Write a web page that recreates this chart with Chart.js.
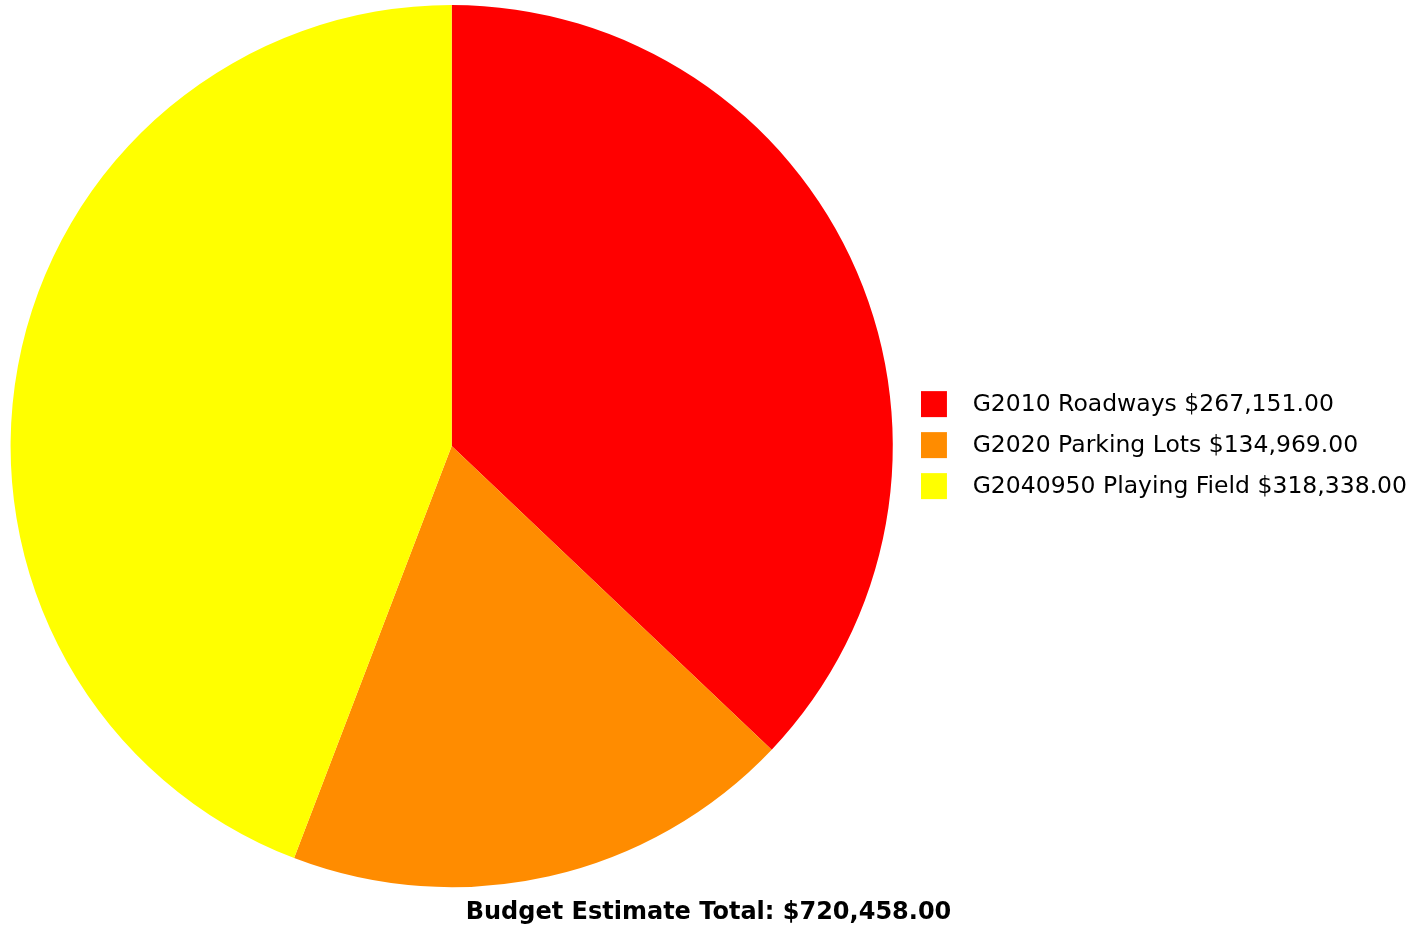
<!DOCTYPE html>
<html>
<head>
<meta charset="utf-8">
<script src="https://cdn.jsdelivr.net/npm/chart.js@4/dist/chart.umd.min.js"></script>
<style>
  html, body { margin: 0; padding: 0; background: #ffffff; }
  #wrap { width: 1424px; height: 928px; }
</style>
</head>
<body>
<div id="wrap"><canvas id="budgetChart"></canvas></div>
<script>
const categories = ['G2010 Roadways', 'G2020 Parking Lots', 'G2040950 Playing Field'];
const amounts = [267151, 134969, 318338];
const sliceColors = ['#FF0000', '#FF8C00', '#FFFF00'];

const money = v => '$' + v.toLocaleString('en-US', { minimumFractionDigits: 2, maximumFractionDigits: 2 });
const total = amounts.reduce((a, b) => a + b, 0);

// square swatch on a wider transparent canvas so the text sits further from the box
function swatch(color) {
    const c = document.createElement('canvas');
    c.width = 40;
    c.height = 30;
    const g = c.getContext('2d');
    g.fillStyle = color;
    g.fillRect(0, 1, 26, 26);
    return c;
}

document.addEventListener('DOMContentLoaded', () => {
    const ctx = document.getElementById('budgetChart').getContext('2d');

    new Chart(ctx, {
        type: 'pie',
        data: {
            labels: categories.map((c, i) => c + ' ' + money(amounts[i])),
            datasets: [{
                data: amounts,
                backgroundColor: sliceColors,
                borderWidth: 0,
                hoverOffset: 0
            }]
        },
        options: {
            responsive: true,
            maintainAspectRatio: false,
            animation: false,
            layout: { padding: { top: 5, right: 7, left: 0, bottom: 0 } },
            plugins: {
                legend: {
                    position: 'right',
                    fullSize: false,
                    labels: {
                        font: { family: 'DejaVu Sans', size: 23.5 },
                        color: '#000000',
                        padding: 17.5,
                        usePointStyle: true,
                        pointStyleWidth: 40,
                        generateLabels: chart => chart.data.labels.map((text, i) => ({
                            text: text,
                            fillStyle: sliceColors[i],
                            strokeStyle: sliceColors[i],
                            lineWidth: 0,
                            pointStyle: swatch(sliceColors[i]),
                            fontColor: '#000000',
                            hidden: false,
                            index: i
                        }))
                    }
                },
                title: {
                    display: true,
                    position: 'bottom',
                    text: 'Budget Estimate Total: ' + money(total),
                    color: '#000000',
                    font: { family: 'DejaVu Sans', size: 24, weight: 'bold' },
                    padding: { top: 11, bottom: 1 }
                },
                tooltip: { enabled: false }
            }
        }
    });
});
</script>
</body>
</html>
